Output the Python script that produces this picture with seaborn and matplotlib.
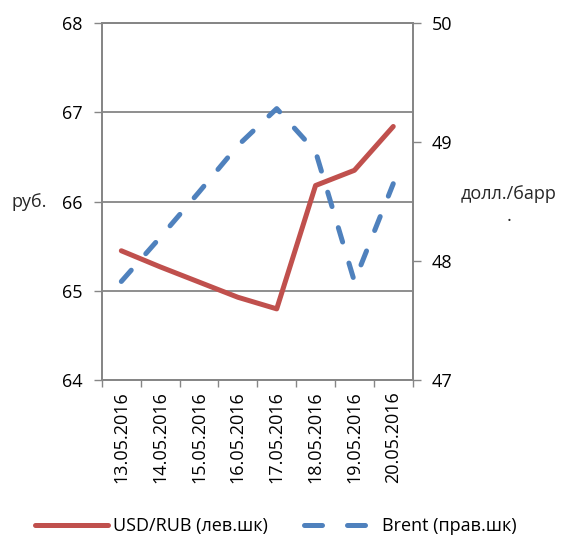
import matplotlib
matplotlib.use('Agg')
import matplotlib.pyplot as plt
from matplotlib.lines import Line2D
from matplotlib.ticker import FixedLocator
import seaborn as sns
import pandas as pd

# Data
dates = ['13.05.2016', '14.05.2016', '15.05.2016', '16.05.2016',
         '17.05.2016', '18.05.2016', '19.05.2016', '20.05.2016']
usd_rub = [65.45, 65.27, 65.10, 64.93, 64.80, 66.18, 66.35, 66.84]
brent = [47.83, 48.20, 48.58, 48.97, 49.28, 48.92, 47.83, 48.65]

left_ticks = [64, 65, 66, 67, 68]
right_ticks = [47, 48, 49, 50]

df = pd.DataFrame({'date': dates, 'usd_rub': usd_rub, 'brent': brent})

sns.set_theme(style='white')
plt.rcParams['font.family'] = ['Open Sans', 'DejaVu Sans']
plt.rcParams['text.color'] = 'black'
plt.rcParams['xtick.color'] = 'black'
plt.rcParams['ytick.color'] = 'black'
fs = 13
lw = 3.6
grey = '#868686'
red = '#C0504D'
blue = '#4F81BD'

fig = plt.figure(figsize=(5.63, 5.37), dpi=100)
ax = fig.add_axes([0.181, 0.2916, 0.552, 0.666])
ax2 = ax.twinx()

sns.lineplot(data=df, x='date', y='usd_rub', ax=ax, color=red, lw=lw, legend=False)
sns.lineplot(data=df, x='date', y='brent', ax=ax2, color=blue, lw=lw, legend=False)
ax.lines[0].set_solid_capstyle('round')
ax.lines[0].set_solid_joinstyle('round')
ax2.lines[0].set_linestyle((0, (3.0, 4.4)))
ax2.lines[0].set_dash_capstyle('round')

ax.set_xlim(-0.5, len(dates) - 0.5)
ax.set_ylim(64, 68)
ax2.set_ylim(47, 50)
ax.set_yticks(left_ticks)
ax2.set_yticks(right_ticks)

ax.set_xticks(range(len(dates)))
ax.set_xticklabels(dates, rotation=90, fontsize=fs)
ax.xaxis.set_minor_locator(FixedLocator([i - 0.5 for i in range(len(dates) + 1)]))
ax.tick_params(axis='x', which='major', length=0, pad=8)
ax.tick_params(axis='x', which='minor', length=5, color=grey, width=1, direction='out', bottom=True)
ax.tick_params(axis='y', length=6, color=grey, width=1, direction='out', left=True, labelsize=fs, pad=8)
ax2.tick_params(axis='y', length=6, color=grey, width=1, direction='out', right=True, labelsize=fs, pad=8)

ax.grid(axis='y', color=grey, lw=1.3)
ax.grid(axis='x', visible=False)
ax2.grid(False)
for a in (ax, ax2):
    for s in a.spines.values():
        s.set_color(grey)
        s.set_linewidth(1.3)

ax.set_xlabel('')
ax.set_ylabel('руб.', rotation=0, fontsize=fs, va='center', ha='left')
ax.yaxis.set_label_coords(-0.29, 0.5)
ax2.set_ylabel('долл./барр\n.', rotation=0, fontsize=fs, va='center', ha='center',
               multialignment='center', linespacing=1.3)
ax2.yaxis.set_label_coords(1.309, 0.49)

handles = [Line2D([], [], color=red, lw=lw, solid_capstyle='round'),
           Line2D([], [], color=blue, lw=lw, linestyle=(0, (3.6, 5.0)), dash_capstyle='round')]
labels = ['USD/RUB (лев.шк)', 'Brent (прав.шк)']
fig.legend(handles, labels, loc='center', bbox_to_anchor=(0.49, 0.02), ncol=2,
           frameon=False, fontsize=fs, handlelength=4.0, columnspacing=2.0, handletextpad=0.3)

fig.savefig('out.png', dpi=100)
